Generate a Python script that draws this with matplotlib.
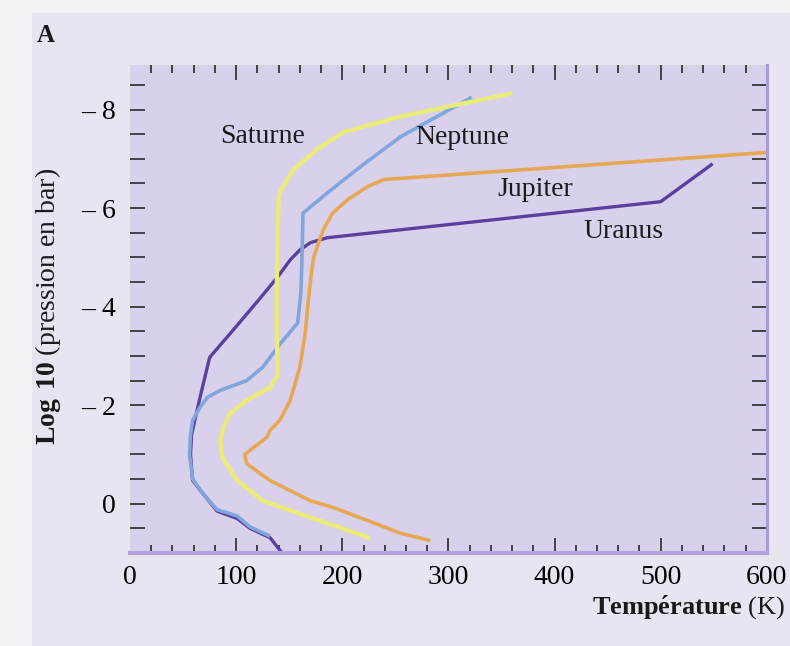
import matplotlib
matplotlib.use("Agg")
from matplotlib import pyplot as plt
from matplotlib.patches import Rectangle
from matplotlib.ticker import FixedLocator, MultipleLocator

# temperature (K) / log10 pressure (bar)
uranus_t = [144, 132, 113, 101, 82, 69, 59, 57, 58, 61, 66, 75, 97, 121, 139, 151, 160, 170, 186, 500, 549]
uranus_p = [1.02, 0.69, 0.5, 0.3, 0.15, -0.2, -0.47, -1.0, -1.4, -1.69, -2.16, -2.97, -3.52, -4.13, -4.6,
            -4.95, -5.15, -5.3, -5.4, -6.13, -6.9]

neptune_t = [132, 113, 101, 82, 69, 59, 56, 57, 59, 66, 73, 85, 110, 125, 142, 158, 161, 162, 163, 186, 217, 255, 322]
neptune_p = [0.66, 0.47, 0.25, 0.12, -0.2, -0.5, -1.0, -1.4, -1.69, -1.96, -2.16, -2.3, -2.5, -2.77, -3.26,
             -3.67, -4.3, -4.95, -5.9, -6.31, -6.84, -7.45, -8.25]

saturne_t = [226, 200, 170, 125, 101, 87, 85, 88, 94, 110, 132, 139, 138, 139, 140, 142, 154, 176, 201, 255, 360]
saturne_p = [0.7, 0.5, 0.28, -0.06, -0.47, -0.94, -1.28, -1.55, -1.83, -2.1, -2.36, -2.6, -4.0, -5.5, -6.2,
             -6.37, -6.78, -7.19, -7.54, -7.86, -8.33]

jupiter_t = [283, 255, 192, 170, 132, 110, 108, 129, 132, 141, 151, 160, 165, 168, 171, 173, 182, 191, 205, 224, 239, 600]
jupiter_p = [0.75, 0.6, 0.08, -0.06, -0.47, -0.81, -1.0, -1.35, -1.49, -1.69, -2.1, -2.77, -3.45, -4.13, -4.7,
             -5.0, -5.56, -5.9, -6.17, -6.44, -6.58, -7.13]

names = ["Saturne", "Neptune", "Jupiter", "Uranus"]
name_t = [125, 313, 382, 465]
name_p = [-7.45, -7.43, -6.37, -5.52]

ytick_vals = [-8, -6, -4, -2, 0]
ytick_labels = ["\u2013 8", "\u2013 6", "\u2013 4", "\u2013 2", "0"]
xtick_vals = [0, 100, 200, 300, 400, 500, 600]

plt.rcParams['font.family'] = ['Liberation Serif', 'DejaVu Serif']
plt.rcParams['mathtext.fontset'] = 'custom'
plt.rcParams['mathtext.rm'] = 'Liberation Serif'
plt.rcParams['mathtext.bf'] = 'Liberation Serif:bold'

fig = plt.figure(figsize=(7.9, 6.46), dpi=100, facecolor='#f2f1f6')
fig.patches.append(Rectangle((0.04, 0.0), 0.96, 0.98, transform=fig.transFigure,
                             facecolor='#e8e5f1', edgecolor='none', zorder=-5))
ax = fig.add_axes([0.1646, 0.144, 0.806, 0.755])
ax.set_facecolor('#d9d1ec')

ax.plot(uranus_t, uranus_p, color='#5b3f9e', lw=2.4, solid_capstyle='butt')
ax.plot(neptune_t, neptune_p, color='#80a6dc', lw=2.6, solid_capstyle='butt')
ax.plot(saturne_t, saturne_p, color='#eaec78', lw=3.1, solid_capstyle='butt')
ax.plot(jupiter_t, jupiter_p, color='#e6a852', lw=2.6, solid_capstyle='butt')

for n, t, p in zip(names, name_t, name_p):
    ax.text(t, p, n, fontsize=20, ha='center', va='center', color='#1a1a1a')

ax.set_xlim(0, 600)
ax.set_ylim(1.0, -8.9)

for s in ['left', 'top']:
    ax.spines[s].set_visible(False)
ax.spines['bottom'].set_color('#b4a4dc')
ax.spines['bottom'].set_linewidth(3)
ax.spines['right'].set_color('#aa9ad6')
ax.spines['right'].set_linewidth(2.2)

ax.xaxis.set_major_locator(FixedLocator(xtick_vals))
ax.xaxis.set_minor_locator(MultipleLocator(20))
ax.yaxis.set_major_locator(FixedLocator(ytick_vals))
ax.set_yticklabels(ytick_labels)
ax.yaxis.set_minor_locator(MultipleLocator(0.5))

ax.tick_params(axis='x', which='both', direction='in', top=True, bottom=True, color='#2a2a2a',
               width=1.2, labelsize=20, pad=9)
ax.tick_params(axis='x', which='major', length=11)
ax.tick_params(axis='x', which='minor', length=6)
ax.tick_params(axis='y', which='both', direction='in', left=True, right=True, color='#2a2a2a',
               width=1.2, length=11, labelsize=20, pad=10)

fig.canvas.draw()
for tk in [ax.xaxis.get_major_ticks()[0], ax.xaxis.get_major_ticks()[-1]]:
    tk.tick1line.set_visible(False)
    tk.tick2line.set_visible(False)

fig.text(0.061, 0.526, r"$\mathbf{Log\ 10}$ (pression en bar)", rotation=90, fontsize=20,
         ha='center', va='center', color='#1a1a1a')
fig.text(0.994, 0.049, r"$\mathbf{Temp\acute{e}rature}$ (K)", fontsize=19,
         ha='right', va='baseline', color='#1a1a1a')
fig.text(0.047, 0.935, "A", fontsize=18, fontweight='bold', color='#1a1a1a')

fig.savefig("out.png", dpi=100, facecolor=fig.get_facecolor())
